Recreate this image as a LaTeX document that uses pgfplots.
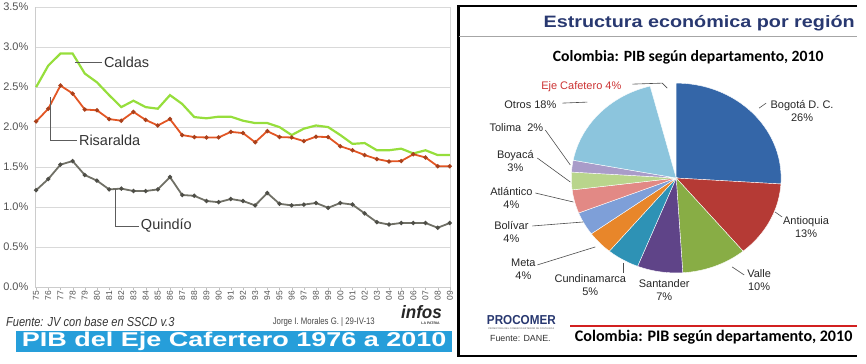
\documentclass[border=0pt]{standalone}
\usepackage{fontspec}
\setmainfont{Liberation Sans}
\newfontfamily\carlito{Carlito}
\usepackage{graphicx}
\usepackage{pgfplots}
\usepackage{pgfplotstable}
\pgfplotsset{compat=1.18}

\definecolor{cCal}{RGB}{150,222,60}
\definecolor{cRis}{RGB}{226,86,36}
\definecolor{cQui}{RGB}{112,112,102}
\definecolor{cGrid}{RGB}{217,217,217}
\definecolor{cBanner}{RGB}{38,158,218}
\definecolor{cNavy}{RGB}{40,56,112}
\definecolor{cBog}{RGB}{52,102,168}
\definecolor{cAnt}{RGB}{181,58,53}
\definecolor{cVal}{RGB}{136,173,69}
\definecolor{cSan}{RGB}{95,68,136}
\definecolor{cCun}{RGB}{46,146,181}
\definecolor{cMet}{RGB}{232,134,42}
\definecolor{cBol}{RGB}{126,159,216}
\definecolor{cAtl}{RGB}{226,137,133}
\definecolor{cBoy}{RGB}{185,213,140}
\definecolor{cTol}{RGB}{169,156,201}
\definecolor{cOtr}{RGB}{140,197,221}
\definecolor{cEje}{RGB}{204,51,51}
\definecolor{cTxt}{RGB}{51,51,51}
\definecolor{cRed}{RGB}{210,32,32}

% PIB share (%) by year index (0 = 1975 ... 34 = 2009)
\pgfplotstableread{
i caldas risaralda quindio
0  2.50  2.07  1.21
1  2.77  2.23  1.35
2  2.92  2.52  1.53
3  2.92  2.42  1.575
4  2.67  2.22  1.40
5  2.56  2.21  1.33
6  2.40  2.10  1.22
7  2.25  2.08  1.23
8  2.33  2.19  1.20
9  2.25  2.09  1.20
10 2.23  2.02  1.22
11 2.40  2.10  1.375
12 2.29  1.90  1.15
13 2.125 1.875 1.14
14 2.11  1.87  1.075
15 2.13  1.87  1.06
16 2.13  1.94  1.10
17 2.08  1.925 1.075
18 2.05  1.81  1.02
19 2.05  1.95  1.175
20 2.00  1.875 1.04
21 1.90  1.87  1.02
22 1.98  1.825 1.03
23 2.02  1.88  1.05
24 2.00  1.875 0.99
25 1.90  1.76  1.05
26 1.79  1.71  1.03
27 1.80  1.65  0.92
28 1.71  1.60  0.81
29 1.71  1.57  0.78
30 1.73  1.575 0.80
31 1.67  1.66  0.80
32 1.71  1.62  0.80
33 1.65  1.51  0.74
34 1.65  1.51  0.80
}\pibtable

% slice: start (%), size (%), colour
\newcommand{\pieslice}[3]{\fill[#3,draw=white,line width=0.4pt] (axis cs:0,0) -- plot[domain={90-3.6*(#1+#2)}:{90-3.6*(#1)},samples=40,variable=\t] (axis cs:{cos(\t)},{sin(\t)}) -- cycle;}

\begin{document}
\begin{tikzpicture}
\begin{scope}[x=1pt,y=1pt]
\path[use as bounding box] (0,0) rectangle (866,364);
\end{scope}

% ---------------- left panel: line chart ----------------
\begin{axis}[
  at={(34pt,77pt)}, anchor=south west, scale only axis,
  width=416pt, height=280pt,
  xmin=-0.1, xmax=34.05, ymin=0, ymax=3.5,
  axis x line=bottom, axis y line=left,
  axis line style={draw=cGrid!85!gray, line width=0.8pt, -},
  ytick={0,0.5,...,3.5}, ymajorgrids,
  grid style={draw=cGrid, line width=0.8pt},
  ytick style={draw=none},
  /pgf/number format/assume math mode=true,
  yticklabel={\pgfmathprintnumber[fixed,fixed zerofill,precision=1]{\tick}\%},
  yticklabel style={font=\fontsize{11}{11}\selectfont, text=cTxt!85},
  xtick={0,...,34},
  xticklabels={75,76,77,78,79,80,81,82,83,84,85,86,87,88,89,90,91,92,93,94,95,96,97,98,99,00,01,02,03,04,05,06,07,08,09},
  x tick label style={rotate=90, anchor=east, font=\fontsize{8.5}{8.5}\selectfont, text=cTxt!85, inner sep=1pt},
  xtick style={draw=cGrid!70!gray},
  tick align=outside, major tick length=3pt,
  clip=false,
]
\draw[cGrid, line width=0.8pt] (rel axis cs:1,0) -- (rel axis cs:1,1);
\addplot[cCal, line width=2.2pt, no marks] table[x=i,y=caldas]{\pibtable};
\addplot[cRis, line width=1.8pt, mark=*, mark size=1.1pt, mark options={fill=cRis!75!black, draw=cRis!75!black}] table[x=i,y=risaralda]{\pibtable};
\addplot[cQui, line width=1.8pt, mark=*, mark size=1.1pt, mark options={fill=cQui!70!black, draw=cQui!70!black}] table[x=i,y=quindio]{\pibtable};
\end{axis}

% ---------------- pie ----------------
\begin{axis}[
  at={(571pt,91pt)}, anchor=south west, scale only axis,
  width=210pt, height=190pt,
  xmin=-1, xmax=1, ymin=-1, ymax=1, hide axis, clip=false,
]
\pieslice{0}{26}{cBog}
\pieslice{26}{13}{cAnt}
\pieslice{39}{10}{cVal}
\pieslice{49}{7}{cSan}
\pieslice{56}{5}{cCun}
\pieslice{61}{4}{cMet}
\pieslice{65}{4}{cBol}
\pieslice{69}{4}{cAtl}
\pieslice{73}{3}{cBoy}
\pieslice{76}{2}{cTol}
\pieslice{78}{18}{cOtr}
\end{axis}

\begin{scope}[x=1pt,y=1pt]
% series labels with leader lines
\draw[cTxt!80, line width=0.8pt] (74,302) -- (101,302);
\node[anchor=west, text=cTxt, font=\fontsize{14.5}{14.5}\selectfont, inner sep=0] at (103,302) {Caldas};
\draw[cTxt!80, line width=0.8pt] (50,267) -- (50,224) -- (76,224);
\node[anchor=west, text=cTxt, font=\fontsize{14.5}{14.5}\selectfont, inner sep=0] at (78,224) {Risaralda};
\draw[cTxt!80, line width=0.8pt] (115,175) -- (115,138) -- (138,138);
\node[anchor=west, text=cTxt, font=\fontsize{14.5}{14.5}\selectfont, inner sep=0] at (140,138) {Quindío};

% footer
\node[anchor=west, inner sep=0, text=cTxt] at (5,42) {\scalebox{0.85}[1]{\fontsize{13}{13}\selectfont\itshape Fuente: JV con base en SSCD v.3}};
\node[anchor=west, inner sep=0, text=cTxt!90] at (272,42) {\scalebox{0.82}[1]{\fontsize{9.5}{9.5}\selectfont Jorge I. Morales G. | 29-IV-13}};
\node[inner sep=0, text=black!85] at (421,52) {\scalebox{0.95}[1]{\fontsize{18}{18}\selectfont\bfseries\itshape infos}};
\node[inner sep=0, text=black!80] at (430,41) {\fontsize{3.5}{3.5}\selectfont\bfseries LA PATRIA};
\fill[cBanner] (15,12) rectangle (452,33);
\node[anchor=base, inner sep=0, text=white] at (233.5,17) {\resizebox{425pt}{14.5pt}{\bfseries PIB del Eje Cafertero 1976 a 2010}};

% ---------------- right panel frame and titles ----------------
\draw[black, line width=2.5pt] (857,358) -- (458,358) -- (458,8) -- (857,8);
\draw[gray!70, line width=0.8pt] (459,328) -- (857,328);
\node[inner sep=0, text=cNavy] at (699,341) {\scalebox{1.2}[1]{\fontsize{16.5}{16.5}\selectfont\bfseries Estructura económica por región}};
\node[inner sep=0, text=black] at (688,307) {\fontsize{15.7}{15.7}\selectfont\carlito\bfseries Colombia: PIB según departamento, 2010};

% pie labels
\tikzset{pl/.style={align=center, inner sep=0, text=black!85, font=\fontsize{11}{13}\selectfont}}
\node[pl] at (802,253) {Bogotá D. C.\\26\%};
\node[pl] at (806,137) {Antioquia\\13\%};
\node[pl] at (759,84) {Valle\\10\%};
\node[pl] at (664,74) {Santander\\7\%};
\node[pl] at (590,79) {Cundinamarca\\5\%};
\node[pl] at (523,95) {Meta\\4\%};
\node[pl] at (511,132) {Bolívar\\4\%};
\node[pl] at (511,166) {Atlántico\\4\%};
\node[pl] at (515,203) {Boyacá\\3\%};
\node[pl] at (516,237) {Tolima\ \ 2\%};
\node[pl] at (530,259) {Otros 18\%};
\node[pl, text=cEje] at (581,277) {Eje Cafetero 4\%};

\tikzset{ld/.style={draw=black!70, line width=0.6pt}}
\draw[ld] (632,280) -- (662,281) -- (667,276);
\draw[ld] (562,261) -- (587,262);
\draw[ld] (766,261) -- (759,256);
\draw[ld] (545,234) -- (570,199);
\draw[ld] (537,206) -- (570,182);
\draw[ld] (535,171) -- (573,162);
\draw[ld] (532,138) -- (583,142);
\draw[ld] (537,99) -- (595,117);
\draw[ld] (623,101) -- (623,91);
\draw[ld] (732,97) -- (744,89);
\draw[ld] (782,147) -- (775,152);

% bottom of right panel
\node[inner sep=0, text=cNavy] at (521,44) {\scalebox{0.9}[1]{\fontsize{13}{13}\selectfont\bfseries PROCOMER}};
\node[inner sep=0, text=gray] at (521,35.5) {\resizebox{66pt}{!}{\bfseries PROMOTORA DEL COMERCIO EXTERIOR DE COSTA RICA}};
\node[inner sep=0, text=black!80] at (520,25) {\fontsize{8.9}{8.9}\selectfont Fuente: DANE.};
\draw[cRed, line width=2pt] (570,38) -- (857,38);
\node[inner sep=0, text=black] at (713.5,27) {\fontsize{16.1}{16.1}\selectfont\carlito\bfseries Colombia: PIB según departamento, 2010};
\end{scope}
\end{tikzpicture}
\end{document}
